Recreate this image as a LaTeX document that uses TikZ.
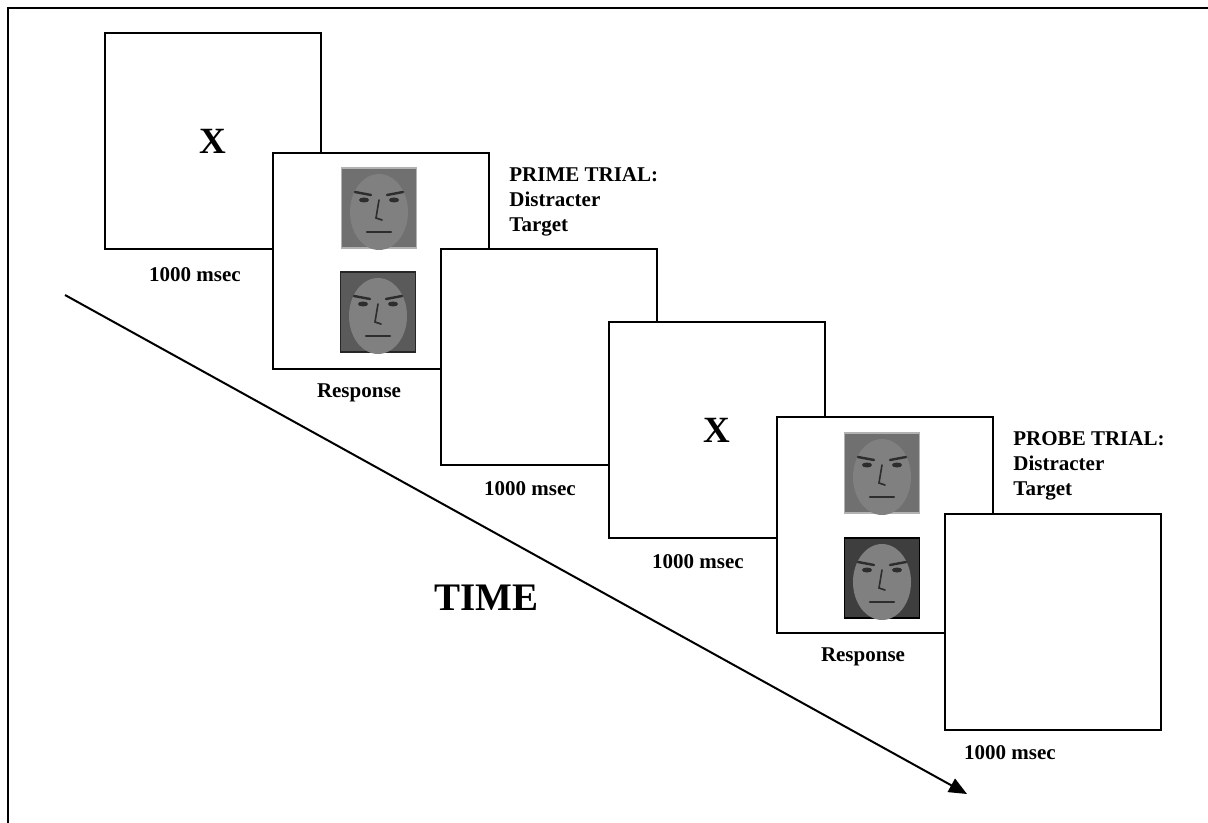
\documentclass[tikz,border=0pt]{standalone}
\usepackage{fontspec}
\setmainfont{Liberation Serif}
\usetikzlibrary{positioning,arrows.meta}

\definecolor{photobg}{RGB}{112,112,112}
\definecolor{photoskin}{RGB}{128,128,128}
\definecolor{photodark}{RGB}{45,45,45}

\tikzset{
  screen/.style={draw,line width=1pt,fill=white,minimum width=108pt,minimum height=108pt,
    inner sep=0pt,font=\bfseries\fontsize{18.5}{20}\selectfont},
  lbl/.style={font=\bfseries\fontsize{10.5}{12.5}\selectfont,inner sep=0pt},
  photo/.style={line width=0.8pt,minimum width=37.5pt,minimum height=40pt,inner sep=0pt},
  feat/.style={photodark,line width=1.2pt,line cap=round}
}

% one face photograph: name, centre, frame colour, background
\newcommand\facephoto[4]{%
  \node[photo,fill=#4,draw=#3] (#1) at (#2) {};
  \begin{scope}[shift={(#1.center)}]
    \fill[photoskin] (0,4) ellipse (29 and 38);
    \draw[feat] (-24,-16) -- (-8,-13) (8,-13) -- (24,-16);
    \fill[photodark] (-15,-8) ellipse (5 and 2.5) (15,-8) ellipse (5 and 2.5);
    \draw[feat,line width=0.8pt] (0,-8) -- (-3,10) -- (3,12);
    \draw[feat] (-12,24) -- (12,24);
  \end{scope}}

\begin{document}
\begin{tikzpicture}[x=0.5pt,y=-0.5pt]
  \useasboundingbox (0,0) rectangle (1208,823);

  % frame
  \draw[line width=1pt] (1208,8) -- (8,8) -- (8,823);

  % time axis
  \coordinate (tstart) at (65,295);
  \coordinate (tend) at (967,794);
  \draw[line width=1pt,-{Triangle[length=9pt,width=7.5pt]}] (tstart) -- (tend);
  \node[font=\bfseries\fontsize{19.5}{22}\selectfont,inner sep=0pt] (time) at (486,598) {TIME};

  % screens
  \node[screen] (s1) at (213,141) {X};
  \node[screen] (s2) at (381,261) {};
  \node[screen] (s3) at (549,357) {};
  \node[screen] (s4) at (717,430) {X};
  \node[screen] (s5) at (885,525) {};
  \node[screen] (s6) at (1053,622) {};

  % faces
  \facephoto{f1}{379,208}{gray!60}{photobg}
  \facephoto{f2}{378,312}{black!85}{photobg!80!black}
  \facephoto{f3}{882,473}{gray!60}{photobg}
  \facephoto{f4}{882,578}{black}{photobg!55!black}

  % durations and responses
  \node[lbl] (t1) at (195,275) {1000 msec};
  \node[lbl] (r2) at (359,393) {Response};
  \node[lbl] (t3) at (530,489) {1000 msec};
  \node[lbl] (t4) at (698,562) {1000 msec};
  \node[lbl] (r5) at (863,657) {Response};
  \node[lbl] (t6) at (1010,753) {1000 msec};

  % trial names
  \node[lbl,anchor=west,align=left] (prime) at (509,202) {PRIME TRIAL:\\Distracter\\Target};
  \node[lbl,anchor=west,align=left] (probe) at (1013,466) {PROBE TRIAL:\\Distracter\\Target};
\end{tikzpicture}
\end{document}
